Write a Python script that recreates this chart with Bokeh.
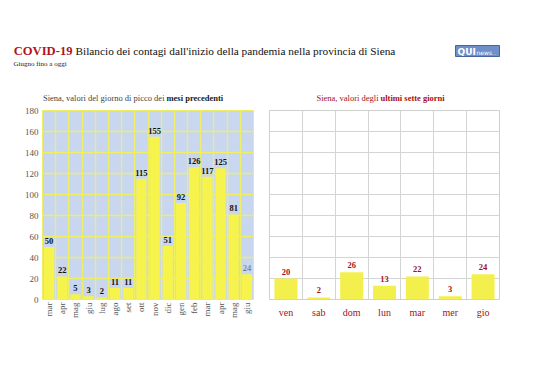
from math import pi
from bokeh.plotting import figure
from bokeh.models import Range1d, FixedTicker, SingleIntervalTicker, ColumnDataSource
from bokeh.layouts import column, row
from bokeh.core.properties import value
from bokeh.embed import file_html
from bokeh.resources import INLINE

# ---- data ----
months = ["mar", "apr", "mag", "giu", "lug", "ago", "set", "ott", "nov", "dic",
          "gen", "feb", "mar", "apr", "mag", "giu"]
peak_values = [50, 22, 5, 3, 2, 11, 11, 115, 155, 51, 92, 126, 117, 125, 81, 24]
days = ["ven", "sab", "dom", "lun", "mar", "mer", "gio"]
week_values = [20, 2, 26, 13, 22, 3, 24]
y_max = 180

FONT = value("Liberation Serif")
DARK_RED = "#a3121a"

# ---- header (titles) ----
HW, HH = 529, 103
header = figure(width=HW, height=HH, x_range=Range1d(0, HW), y_range=Range1d(HH, 0),
                x_axis_type=None, y_axis_type=None, output_backend="svg",
                toolbar_location=None, min_border=0)
header.grid.visible = False
header.outline_line_color = None

header.text(x=[72], y=[50], text=["COVID-19"], text_font=FONT, text_font_style="bold",
            text_font_size="12.6px", text_color="#b0141c", text_align="right", text_baseline="middle")
header.text(x=[75], y=[50], text=["Bilancio dei contagi dall'inizio della pandemia nella provincia di Siena"],
            text_font=FONT, text_font_size="11.3px", text_color="#111111",
            text_align="left", text_baseline="middle")
header.text(x=[13], y=[63], text=["Giugno fino a oggi"], text_font=FONT, text_font_size="7px",
            text_color="#222222", text_align="left", text_baseline="middle")
# logo
header.rect(x=[477], y=[50.5], width=44, height=11, fill_color="#6f8fc9", line_color="#45659f")
header.text(x=[457], y=[51], text=["QUI"], text_font=value("DejaVu Sans"), text_font_style="bold",
            text_font_size="9px", text_color="white", text_align="left", text_baseline="middle")
header.text(x=[476], y=[52], text=["news"], text_font=value("DejaVu Sans"),
            text_font_size="6px", text_color="white", text_align="left", text_baseline="middle")
header.text(x=[491], y=[52], text=["..."], text_font=value("DejaVu Sans"),
            text_font_size="5px", text_color="#c8d4ee", text_align="left", text_baseline="middle")

# chart subtitles
header.text(x=[164], y=[97], text=["Siena, valori del giorno di picco dei"], text_font=FONT,
            text_font_size="8.5px", text_color="#444444", text_align="right", text_baseline="middle")
header.text(x=[166], y=[97], text=["mesi precedenti"], text_font=FONT, text_font_style="bold",
            text_font_size="8.5px", text_color="#222222", text_align="left", text_baseline="middle")
header.text(x=[378], y=[97], text=["Siena, valori degli"], text_font=FONT,
            text_font_size="8.5px", text_color=DARK_RED, text_align="right", text_baseline="middle")
header.text(x=[380], y=[97], text=["ultimi sette giorni"], text_font=FONT, text_font_style="bold",
            text_font_size="8.5px", text_color=DARK_RED, text_align="left", text_baseline="middle")

# ---- left chart ----
n1 = len(months)
src1 = ColumnDataSource(dict(
    x=list(range(n1)), v=peak_values, lbl=[str(v) for v in peak_values],
    col=["#111111"] * (n1 - 1) + ["#666666"],
    sty=["bold"] * (n1 - 1) + ["normal"],
))
left = figure(width=261, height=262, x_range=Range1d(-0.5, n1 - 0.5), y_range=Range1d(0, y_max),
              output_backend="svg", toolbar_location=None,
              min_border_left=42, min_border_right=8, min_border_top=7, min_border_bottom=66)
left.background_fill_color = "#c8d6ef"
left.outline_line_color = "#eeee66"
left.vbar(x="x", top="v", width=0.78, source=src1, fill_color="#f6f34c", line_color=None)
left.text(x="x", y="v", text="lbl", source=src1, y_offset=-3, text_font=FONT,
          text_font_style="sty", text_font_size="8.5px", text_color="col",
          text_align="center", text_baseline="bottom")
left.xgrid.ticker = FixedTicker(ticks=[i - 0.5 for i in range(n1 + 1)])
left.ygrid.ticker = SingleIntervalTicker(interval=20)
left.grid.grid_line_color = "#efef66"
left.grid.grid_line_width = 1.3
left.xaxis.ticker = FixedTicker(ticks=list(range(n1)))
left.xaxis.major_label_overrides = {i: m for i, m in enumerate(months)}
left.xaxis.major_label_orientation = pi / 2
left.yaxis.ticker = SingleIntervalTicker(interval=20)
for ax in (left.xaxis, left.yaxis):
    ax.axis_line_color = None
    ax.major_tick_line_color = None
    ax.minor_tick_line_color = None
    ax.major_tick_out = 0
    ax.minor_tick_out = 0
    ax.major_label_text_font = "Liberation Serif"
    ax.major_label_text_font_size = "9px"
    ax.major_label_text_color = "#555555"
left.xaxis.major_label_standoff = 3
left.yaxis.major_label_standoff = 4

# ---- right chart ----
n2 = len(days)
src2 = ColumnDataSource(dict(x=list(range(n2)), v=week_values, lbl=[str(v) for v in week_values]))
right = figure(width=268, height=262, x_range=Range1d(-0.5, n2 - 0.5), y_range=Range1d(0, y_max),
               output_backend="svg", toolbar_location=None,
               min_border_left=8, min_border_right=30, min_border_top=6, min_border_bottom=61)
right.background_fill_color = "white"
right.outline_line_color = "#cfcfcf"
right.vbar(x="x", top="v", width=0.7, source=src2, fill_color="#f3f04e", line_color=None)
right.text(x="x", y="v", text="lbl", source=src2, y_offset=-4, text_font=FONT,
           text_font_style="bold", text_font_size="8.5px", text_color=DARK_RED,
           text_align="center", text_baseline="bottom")
right.xgrid.ticker = FixedTicker(ticks=[i - 0.5 for i in range(n2 + 1)])
right.ygrid.ticker = SingleIntervalTicker(interval=20)
right.grid.grid_line_color = "#d4d4d4"
right.grid.grid_line_width = 1
right.yaxis.visible = False
right.xaxis.ticker = FixedTicker(ticks=list(range(n2)))
right.xaxis.major_label_overrides = {i: d for i, d in enumerate(days)}
right.xaxis.axis_line_color = None
right.xaxis.major_tick_line_color = None
right.xaxis.minor_tick_line_color = None
right.xaxis.major_tick_out = 0
right.xaxis.minor_tick_out = 0
right.xaxis.major_label_text_font = "Liberation Serif"
right.xaxis.major_label_text_font_size = "10px"
right.xaxis.major_label_text_color = DARK_RED
right.xaxis.major_label_standoff = 7

layout = column(header, row(left, right))
open("out.html", "w").write(file_html(layout, INLINE))
